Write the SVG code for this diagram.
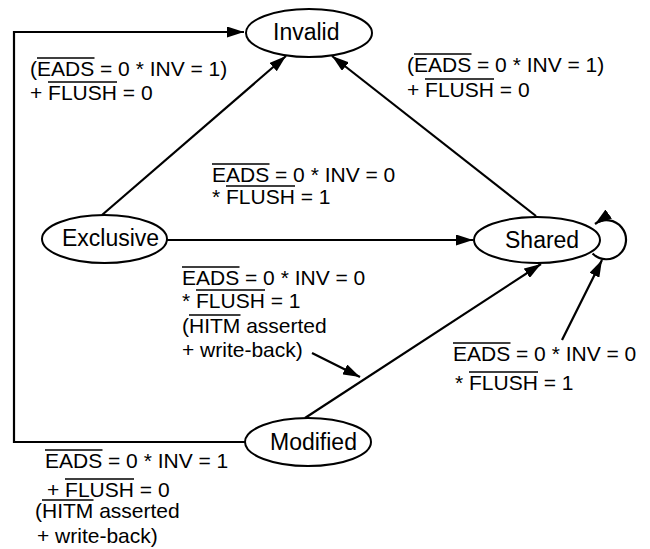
<svg xmlns="http://www.w3.org/2000/svg" width="650" height="549" viewBox="0 0 650 549">
<style>
  .node ellipse { fill: #fff; stroke: #000; stroke-width: 2; }
  .node text { font-family: "Liberation Sans", Arial, sans-serif; font-size: 23px; fill: #000; }
  .lbl { font-family: "Liberation Sans", Arial, sans-serif; font-size: 21px; fill: #000; }
  .ov { stroke: #000; stroke-width: 1.4; fill: none; }
  .edge { fill: none; stroke: #000; stroke-width: 2.2; }
</style>
<defs>
  <marker id="arr" markerUnits="userSpaceOnUse" markerWidth="18" markerHeight="11" refX="17" refY="5.5" orient="auto">
    <path d="M0,0 L17,5.5 L0,11 z" fill="#000"/>
  </marker>
</defs>
<rect width="650" height="549" fill="#fff"/>
<g id="connectors">
  <path class="edge" d="M245,442 H14 V32 H244" marker-end="url(#arr)"/>
  <path class="edge" d="M102,215 L286,56" marker-end="url(#arr)"/>
  <path class="edge" d="M536,216 L332,56" marker-end="url(#arr)"/>
  <path class="edge" d="M167,240 L473,240" marker-end="url(#arr)"/>
  <path class="edge" d="M305,418 L541,264" marker-end="url(#arr)"/>
  <path class="edge" d="M592.6,253.4 A19.5,19.5 0 1 0 595,224" marker-end="url(#arr)"/>
  <path class="edge" d="M562,340 L602,260" marker-end="url(#arr)"/>
  <path class="edge" d="M312,353 L360,377" marker-end="url(#arr)"/>
</g>
<g id="node-invalid" class="node">
  <ellipse cx="309" cy="33" rx="63" ry="24"/>
  <text x="273" y="40">Invalid</text>
</g>
<g id="node-exclusive" class="node">
  <ellipse cx="104.5" cy="239" rx="62.5" ry="24"/>
  <text x="62" y="246">Exclusive</text>
</g>
<g id="node-shared" class="node">
  <ellipse cx="537" cy="240" rx="63" ry="23"/>
  <text x="505" y="248">Shared</text>
</g>
<g id="node-modified" class="node">
  <ellipse cx="308" cy="442" rx="63" ry="24"/>
  <text x="270" y="450">Modified</text>
</g>
<g id="labels">
  <text class="lbl" x="30" y="76">(<tspan>EADS</tspan> = 0 * INV = 1)</text>
  <text class="lbl" x="30" y="100">+ <tspan>FLUSH</tspan> = 0</text>

  <text class="lbl" x="407" y="72">(<tspan>EADS</tspan> = 0 * INV = 1)</text>
  <text class="lbl" x="407" y="97">+ <tspan>FLUSH</tspan> = 0</text>

  <text class="lbl" x="212" y="182"><tspan>EADS</tspan> = 0 * INV = 0</text>
  <text class="lbl" x="212" y="204">* <tspan>FLUSH</tspan> = 1</text>

  <text class="lbl" x="182" y="285"><tspan>EADS</tspan> = 0 * INV = 0</text>
  <text class="lbl" x="182" y="308">* <tspan>FLUSH</tspan> = 1</text>
  <text class="lbl" x="182" y="333">(<tspan>HITM</tspan> asserted</text>
  <text class="lbl" x="182" y="357">+ write-back)</text>

  <text class="lbl" x="453" y="361"><tspan>EADS</tspan> = 0 * INV = 0</text>
  <text class="lbl" x="455" y="390">* <tspan>FLUSH</tspan> = 1</text>

  <text class="lbl" x="45" y="468"><tspan>EADS</tspan> = 0 * INV = 1</text>
  <text class="lbl" x="47" y="497">+ <tspan>FLUSH</tspan> = 0</text>
  <text class="lbl" x="35" y="518">(<tspan>HITM</tspan> asserted</text>
  <text class="lbl" x="37" y="543">+ write-back)</text>
</g>
<g id="overlines">
  <path class="ov" d="M37,58 H94.5 M48,82 H117"/>
  <path class="ov" d="M414,54 H471.5 M425,79 H494"/>
  <path class="ov" d="M212,164 H269.5 M226,186 H295"/>
  <path class="ov" d="M182,267 H239.5 M196,290 H265 M189,315 H240.5"/>
  <path class="ov" d="M453,343 H510.5 M469,372 H538"/>
  <path class="ov" d="M45,450 H102.5 M65,479 H134 M42,500 H93.5"/>
</g>
</svg>
